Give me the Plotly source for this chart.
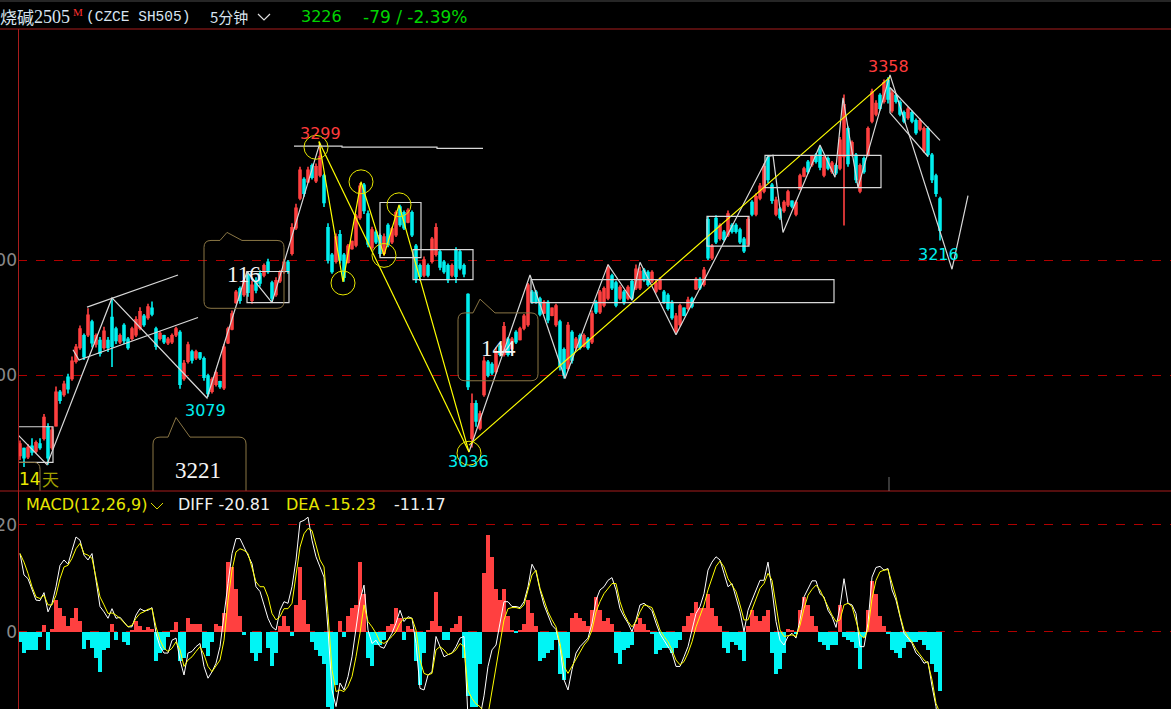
import plotly.graph_objects as go

title_cn = "烧碱"
contract = "2505"
last_price = "3226"
change_text = "-79 / -2.39%"

opens = [3030,3036,3029,3038,3034,3040,3045,3055,3037,3056,3085,3083,3098,3097,3112,3124,3134,3135,3146,3127,3130,3124,3130,3150,
3140,3129,3143,3131,3132,3135,3141,3151,3150,3158,3140,3132,3134,3128,3129,3135,3137,3097,3112,3120,3115,3119,3114,3099,3086,3092,3094,3089,
3128,3140,3163,3175,3170,3187,3165,3182,3188,3187,3198,3180,3170,3182,3190,3198,3206,3228,3254,3270,3268,3282,3269,3274,
3273,3228,3204,3199,3222,3204,3198,3210,3213,3237,3265,3240,3211,3224,3221,3206,3230,3216,3222,3246,3241,3233,3241,3212,3195,3187,3195,3199,3205,3207,3198,3195,3187,3208,3207,3195,
3170,3045,3075,3054,3083,3111,3109,3103,3125,3118,3131,3123,3137,3131,3141,3144,3172,3172,3166,3154,3163,3152,3144,3146,3122,3106,3137,3124,3134,3125,3131,3129,3163,3155,3161,3167,3186,3180,3167,3172,3167,3181,3176,
3176,3191,3189,3182,3173,3175,3172,3169,3163,3138,3144,3158,3158,3166,3175,3183,3179,3235,3202,3236,3219,3224,3222,3230,3230,3226,3218,3214,3250,3240,3254,3260,3289,3265,3240,3244,3243,3248,3251,3240,3262,3273,3285,3283,3291,3296,3274,3288,3277,3282,3280,3290,3314,3292,3291,3260,3288,3292,3321,3327,3343,3338,3356,3330,3343,3337,3328,3324,3328,3321,3314,3295,3314,3291,3273,3253]
closes = [3040,3028,3037,3033,3041,3037,3063,3028,3052,3085,3078,3092,3088,3112,3124,3140,3116,3152,3128,3134,3119,3138,3124,3125,
3130,3134,3130,3124,3140,3148,3155,3144,3159,3153,3125,3136,3129,3131,3134,3140,3092,3110,3126,3113,3120,3115,3098,3084,3096,3102,3090,3124,
3140,3153,3172,3165,3182,3172,3178,3174,3180,3195,3190,3167,3182,3189,3198,3191,3228,3245,3278,3258,3278,3272,3281,3290,
3250,3200,3190,3220,3200,3185,3212,3216,3238,3264,3243,3214,3226,3216,3206,3220,3214,3227,3241,3231,3228,3243,3222,3184,3186,3200,3187,3218,3228,3194,3190,3183,3195,3186,3193,3188,
3090,3075,3060,3066,3112,3100,3102,3120,3118,3142,3118,3131,3129,3140,3151,3178,3164,3164,3153,3163,3148,3158,3160,3108,3100,3143,3113,3131,3124,3134,3124,3153,3155,3172,3175,3193,3176,3161,3176,3163,3176,3167,3192,
3190,3183,3179,3189,3180,3183,3164,3158,3150,3151,3160,3152,3165,3160,3183,3176,3191,3202,3212,3216,3230,3218,3240,3225,3225,3216,3208,3235,3240,3255,3264,3281,3270,3252,3252,3237,3250,3259,3247,3250,3273,3279,3277,3290,3286,3281,3289,3280,3284,3276,3304,3335,3284,3302,3270,3282,3277,3314,3346,3336,3332,3354,3340,3345,3338,3327,3321,3331,3321,3311,3321,3314,3292,3270,3258,3226]
highs = [3043,3037,3040,3045,3043,3045,3066,3058,3055,3090,3087,3095,3101,3116,3127,3143,3136,3158,3148,3136,3133,3142,3133,3167,
3142,3136,3145,3133,3142,3151,3159,3153,3162,3164,3142,3138,3135,3133,3136,3142,3139,3113,3129,3122,3122,3120,3116,3101,3098,3104,3095,3127,
3142,3156,3174,3177,3185,3190,3182,3185,3191,3197,3201,3182,3185,3191,3201,3200,3232,3249,3281,3272,3281,3284,3284,3298,
3275,3232,3206,3223,3226,3206,3214,3217,3240,3267,3267,3243,3229,3226,3223,3223,3232,3229,3243,3248,3243,3245,3243,3214,3197,3203,3197,3220,3232,3209,3200,3197,3197,3211,3209,3197,
3171,3084,3078,3069,3116,3113,3111,3124,3127,3146,3133,3133,3139,3142,3153,3180,3174,3174,3168,3165,3165,3159,3162,3148,3124,3146,3139,3133,3136,3136,3133,3156,3165,3174,3177,3196,3188,3182,3178,3174,3178,3183,3196,
3194,3193,3191,3191,3183,3185,3174,3171,3165,3154,3162,3159,3168,3168,3185,3185,3194,3238,3214,3239,3232,3226,3243,3232,3232,3228,3220,3238,3252,3258,3267,3284,3291,3267,3255,3246,3252,3261,3252,3252,3275,3281,3287,3291,3293,3299,3291,3290,3286,3284,3307,3344,3316,3304,3293,3284,3290,3316,3349,3339,3345,3357,3359,3348,3345,3339,3330,3333,3330,3323,3323,3316,3316,3293,3275,3255]
lows = [3026,3020,3027,3030,3032,3035,3043,3022,3035,3055,3075,3081,3084,3095,3110,3122,3113,3133,3124,3124,3116,3122,3120,3107,
3127,3127,3127,3122,3130,3133,3139,3142,3148,3151,3122,3130,3127,3126,3127,3133,3088,3095,3110,3110,3113,3113,3095,3081,3084,3090,3088,3087,
3127,3139,3162,3162,3168,3168,3162,3171,3177,3185,3188,3164,3168,3180,3188,3188,3204,3226,3252,3255,3267,3270,3267,3272,
3246,3197,3188,3197,3197,3181,3197,3209,3211,3235,3240,3211,3209,3214,3203,3204,3211,3214,3220,3229,3226,3232,3220,3180,3182,3185,3185,3197,3203,3191,3188,3180,3185,3180,3191,3185,
3087,3037,3055,3052,3081,3098,3100,3101,3116,3116,3116,3122,3127,3130,3139,3142,3162,3162,3151,3153,3145,3151,3142,3104,3097,3104,3110,3122,3122,3124,3122,3127,3153,3153,3159,3165,3174,3159,3165,3161,3165,3165,3174,
3174,3181,3177,3180,3171,3174,3162,3156,3148,3136,3142,3151,3156,3158,3174,3174,3177,3200,3200,3214,3217,3216,3220,3223,3223,3214,3206,3212,3238,3238,3252,3258,3267,3249,3238,3235,3241,3246,3245,3238,3261,3272,3275,3281,3284,3278,3272,3278,3275,3274,3278,3230,3281,3290,3267,3258,3275,3290,3319,3325,3330,3336,3336,3328,3336,3325,3319,3322,3319,3309,3312,3293,3290,3267,3255,3217]

macd_hist = [-2,-4,-3.5,-3.5,-3.4,-1,1.2,-3.5,0.5,6,4.5,3,1,2.5,4.5,2,-3.2,-1.5,-3,-5,-7.5,-3.5,-3,1.5,-1.5,0,-2,-2.5,0.3,2,1,0.3,0.8,0.5,-5.5,-4,-3.5,-1,0.2,1.8,-5.5,-5,2.5,1.5,1.5,1.5,-3,-4.5,-2,1.5,1,3.5,13,12,8,3,-0.6,0,-4,-5.5,-4,0,-3,-6.5,-4,1,3,1,-0.8,5,12,6,1.5,-2,-3.5,-4.5,-6,-14,-15,-10,2,-1,3,4.5,5,13,7,-5,-6.5,-2.5,-2.5,-1.5,1,1.5,4.5,2.5,-1.5,1,0.5,-5.5,-10,-4,0.2,2,7.5,1,-1.5,-1.5,0.7,1.5,3,-5,
-12,-14,-14,-6,11,18,14,8,6,8,3,0.3,-0.3,0.3,1.5,6,3.5,1,-5.5,-5,-4,-3.5,-1.5,-8,-9,-5,2.5,3.5,2.5,2,1,4,6.5,4,2,2.5,1.5,-4,-6,-3.5,-3,-2.5,1.5,2.5,1.5,0.2,-0.5,-4.2,-3.5,-3,-3,-4,-3,-1.5,1,3,3.5,5.5,4.5,4.5,7,4.5,3,1,-3,-4,-2,-2.5,-3.5,-5.5,1,4,3,2,3,4,-4,-8,-7,-4,0.5,0.3,-0.5,4,6.5,5,3,1,-2,-2.5,-3.5,-2.5,-2.5,5,-1,-1.5,-2,-3,-7,-1,4,9.5,7,3,1,-0.5,-3.5,-4,-5,-3,-2,-2,-2,-1.5,-2.5,-3.5,-6,-7.5,-11.17]

macd_diff = [14.6,10.6,9.9,7.8,5.9,5.8,7.3,3.7,5.3,8.4,12.4,13.4,12.6,15.2,17.7,17.1,14.3,13.4,14.6,9.6,4.7,3.7,2.5,4.3,2.5,2.7,1.9,0.9,0.9,3.1,4.3,3.9,4.0,4.5,-0.3,-2.8,-4.0,-4.0,-1.6,-1.2,-5.3,-8.1,-4.0,-3.7,-2.8,-2.2,-6.5,-8.7,-7.5,-5.9,-2.8,3.4,9.0,14.6,17.4,17.4,15.8,14.3,12.7,8.4,7.5,5.0,2.5,0.9,0.3,4.0,5.6,5.3,8.4,13.4,20.5,20.8,21.4,17.1,14.0,12.1,10.2,0.3,-10.9,-14.0,-9.6,-10.9,-8.4,-4.7,0.3,5.9,8.7,0.3,-2.2,-1.6,-2.8,-3.1,-1.6,-0.3,1.6,4.0,1.9,2.8,2.5,-2.2,-10.6,-10.9,-8.1,-7.5,-0.9,-2.8,-4.7,-4.3,-4.0,-2.8,-1.2,-0.9,
-16,-18,-17,-16,-12,-6.5,-3.4,-2.5,1.6,5.6,5.6,4.7,4.7,4.5,5.6,8.4,12.6,11.2,7.8,5,3.1,1.2,0.4,-2.8,-9,-10.9,-7.1,-4,-2.8,-1.9,-1.2,1.6,5.9,7.8,8.4,9.6,10.1,7.8,4.3,2.8,1.6,0,2.2,5,5.3,4.7,3.9,1.6,-0.4,-1.6,-2.8,-4,-6.5,-6.5,-4.7,-2.8,0.3,3.4,4.7,7.1,11.5,13,14,13.4,10.9,8.4,9,6.5,3.7,0,4,5.9,7.8,9.6,9.6,13,7.8,1.9,-1.6,-2.5,-0.9,-0.3,-1.2,2.2,6.5,8.1,9.5,9.5,7.1,6.5,4,2.8,0.8,4.7,9.9,5.3,5,3.4,-2.8,-2.8,1.6,10.2,12,12.2,11.5,11.8,7.8,5.9,2.8,-0.3,-1.2,-2.2,-4,-4.7,-5.9,-5.6,-10.2,-14,-20.81]

macd_dea = [14.6,13,10.9,8.4,6.5,6.2,6.8,5,5,6.8,9.9,12.1,12.4,13.7,15.5,16.5,14.6,14.3,13.7,10.2,6.5,5,3.4,3.5,3.1,2.5,1.6,0.9,1.2,2.5,3.4,3.7,4.2,4.3,0.9,-1.6,-3.1,-3.7,-3.1,-1.9,-3.4,-6.5,-5.3,-4.7,-3.7,-2.8,-4.3,-6.5,-7.5,-6.5,-5.3,-1.6,5.9,11.5,14.9,15.5,15.2,14.6,12.1,9.3,8.4,8.4,6.5,3.4,2.2,2.8,4.3,4.3,5.3,10.2,15.8,18.3,19.3,18.9,16.1,13.4,12.1,3.4,-7.1,-11.2,-10.9,-11.2,-10.2,-8.4,-4.7,-0.3,5,1.9,0.9,-0.3,-1.9,-2.2,-1.6,-0.9,0,1.6,2.5,2.5,2.5,0.3,-5.3,-7.8,-8.1,-7.8,-3.4,-2.8,-3.4,-4.3,-4,-3.4,-2.2,-2.8,
-11,-12.5,-13.5,-14,-15,-15.5,-10.9,-6.5,-2.2,2.2,4.3,4.5,4.5,4.3,5,7.8,10.6,11.5,8.1,5.9,3.7,2.2,0.9,-2.2,-6.5,-7.8,-6.5,-5,-3.7,-2.5,-1.6,0.3,3.7,5.6,7.1,8.1,9,9,5.6,3.4,1.9,0.9,1.9,3.7,5,4.8,4.5,2.5,0.3,-0.9,-1.9,-3.4,-5.3,-6.2,-5.6,-4,-1.9,0.9,3.1,5,7.8,10.2,12.2,13.2,12.1,9.9,8.7,7.5,5,2.2,2.2,4.3,6.2,8.1,9,10.9,9.6,4.7,0.3,-0.9,-0.8,-0.6,-0.9,1.2,4.3,6.8,7.9,8.7,7.8,6.2,4.7,3.1,1.9,2.2,5,5.3,4.7,2.2,-0.6,-1.2,0.3,6.2,9.6,11.2,11.5,11.6,9,6.5,3.1,0.3,-0.9,-1.9,-3.3,-4.3,-5.3,-5.9,-9,-13.4,-15.23]

n = len(closes)
assert n == len(opens) == len(highs) == len(lows), (len(opens), n, len(highs), len(lows))
assert n == len(macd_hist) == len(macd_diff) == len(macd_dea), (n, len(macd_hist), len(macd_diff), len(macd_dea))
bars = list(range(n))

# drawn studies, in bar index / price units
zig_white_a_x = [-0.5,6.75,23,46.75,56.75,63,75]
zig_white_a_y = [3048,3022,3167,3080,3190,3163,3302]
zig_white_b_x = [112.25,127.5,136.25,147,153,155,164,187,188.25,190.75,200,203.75,205.75,209.5,217.5,233,237]
zig_white_b_y = [3033,3187,3097,3196,3165,3198,3135,3290,3291,3224,3300,3272,3341,3263,3361,3192,3256]
zig_yellow_x = [74.75,80.75,85.25,91,94.75,112.25]
zig_yellow_y = [3303,3181,3268,3204,3248,3033]
yellow_straights = [((74.75,112.25),(3303,3033)), ((112.25,217.5),(3039,3359))]
white_trends = [((16.75,39.5),(3159,3187)), ((13.25,14.75,44.5),(3122,3113,3150)),
                ((68.5,80.5,80.5,104.25,104.25,115.75),(3299,3299,3298.2,3298.2,3297,3297)),
                ((217.5,230),(3350,3304)), ((217.5,217.5,227),(3350,3328,3290))]
boxes = [(-0.5,8.25,3024,3055),(56.75,67.25,3163,3190),(90,100.25,3202,3250),(98.25,113.25,3183,3209),
         (127.75,203.5,3163,3183),(171.75,182.25,3212,3238),(186.25,215.25,3263,3291)]
circle_x = [74,80.75,85.25,91,94.75,112.25]
circle_y = [3298,3180,3268,3204,3248,3032]
callouts = [(46,66,3217,3158,50,51.75,55.5,3224),(109.5,129.5,3154,3095,113.25,115,118.75,3166),
            (33.25,56.5,3046,2985,37,39,42.5,3063)]

TOP, SPLIT, W, H = 29.0, 491.0, 1171.0, 709.0
fig = go.Figure()
fig.add_trace(go.Candlestick(x=bars, open=opens, high=highs, low=lows, close=closes, xaxis="x", yaxis="y",
    increasing=dict(line=dict(color="#ff4040", width=1.6), fillcolor="#ff4040"),
    decreasing=dict(line=dict(color="#00f0f0", width=1.6), fillcolor="#00f0f0"),
    whiskerwidth=0, hoverinfo="skip", showlegend=False))
for xs, ys, c in [(zig_white_a_x, zig_white_a_y, "#d8d8d8"), (zig_white_b_x, zig_white_b_y, "#d8d8d8"), (zig_yellow_x, zig_yellow_y, "#ffff00")]:
    fig.add_trace(go.Scatter(x=xs, y=ys, mode="lines", line=dict(color=c, width=1.2), xaxis="x", yaxis="y", hoverinfo="skip", showlegend=False))
for (xs, ys) in yellow_straights:
    fig.add_trace(go.Scatter(x=xs, y=ys, mode="lines", line=dict(color="#ffff00", width=1.2), xaxis="x", yaxis="y", hoverinfo="skip", showlegend=False))
for (xs, ys) in white_trends:
    fig.add_trace(go.Scatter(x=xs, y=ys, mode="lines", line=dict(color="#d8d8d8", width=1.2), xaxis="x", yaxis="y", hoverinfo="skip", showlegend=False))

fig.add_trace(go.Bar(x=bars, y=macd_hist, width=1, xaxis="x2", yaxis="y2", hoverinfo="skip", showlegend=False,
    marker=dict(color=["#ff4040" if v >= 0 else "#00f5f5" for v in macd_hist], line=dict(width=0))))
fig.add_trace(go.Scatter(x=bars, y=macd_diff, mode="lines", line=dict(color="#ffffff", width=1), xaxis="x2", yaxis="y2", hoverinfo="skip", showlegend=False))
fig.add_trace(go.Scatter(x=bars, y=macd_dea, mode="lines", line=dict(color="#ffff00", width=1), xaxis="x2", yaxis="y2", hoverinfo="skip", showlegend=False))

shapes = []
for x0, x1, y0, y1 in boxes:
    shapes.append(dict(type="rect", xref="x", yref="y", x0=x0, x1=x1, y0=y0, y1=y1, line=dict(color="#d8d8d8", width=1.2)))
for cx, cy in zip(circle_x, circle_y):
    shapes.append(dict(type="circle", xref="x", yref="y", x0=cx-3, x1=cx+3, y0=cy-10.4, y1=cy+10.4, line=dict(color="#e8e800", width=1)))
for x0, x1, top, bot, p0, p1, p2, tip in callouts:
    rx, ry = 1.75, 6
    path = (f"M {x0+rx} {top} L {p0} {top} L {p1} {tip} L {p2} {top} L {x1-rx} {top} Q {x1} {top} {x1} {top-ry} "
            f"L {x1} {bot+ry} Q {x1} {bot} {x1-rx} {bot} L {x0+rx} {bot} Q {x0} {bot} {x0} {bot+ry} L {x0} {top-ry} Q {x0} {top} {x0+rx} {top} Z")
    shapes.append(dict(type="path", xref="x", yref="y", path=path, line=dict(color="#8a7645", width=1)))
shapes.append(dict(type="path", xref="x", yref="y", path="M -0.5 3024 L 3.5 3024 Q 5 3024 5 3018 L 5 2985", line=dict(color="#8a7645", width=1)))
shapes.append(dict(type="line", xref="paper", yref="paper", x0=0, x1=1, y0=1-TOP/H, y1=1-TOP/H, line=dict(color="#a81c1c", width=1.2)))
shapes.append(dict(type="line", xref="paper", yref="paper", x0=0, x1=1, y0=1-SPLIT/H, y1=1-SPLIT/H, line=dict(color="#a81c1c", width=1.2)))
shapes.append(dict(type="line", xref="paper", yref="paper", x0=18.5/W, x1=18.5/W, y0=0, y1=1-TOP/H, line=dict(color="#a81c1c", width=1)))
shapes.append(dict(type="rect", xref="paper", yref="paper", x0=0, x1=1, y0=1-2/H, y1=1, fillcolor="#262626", line=dict(width=0)))
shapes.append(dict(type="line", xref="paper", yref="paper", x0=889/W, x1=889/W, y0=1-477/H, y1=1-SPLIT/H, line=dict(color="#707070", width=1)))
shapes.append(dict(type="path", xref="paper", yref="paper", path=f"M {258/W} {1-14/H} L {264/W} {1-20/H} L {270/W} {1-14/H}", line=dict(color="#e0e0e0", width=1.2)))
shapes.append(dict(type="path", xref="paper", yref="paper", path=f"M {151/W} {1-503/H} L {157/W} {1-509/H} L {163/W} {1-503/H}", line=dict(color="#dddd00", width=1)))

SANS = "DejaVu Sans"; SERIF = "Liberation Serif"; CJK = "Noto Sans CJK SC"; MONO = "Liberation Mono"
ann = []
def head(px, py, text, color, size, family, anchor="left"):
    ann.append(dict(xref="paper", yref="paper", x=px/W, y=1-py/H, text=text, showarrow=False, xanchor=anchor, yanchor="middle",
                    xshift=-1, font=dict(color=color, size=size, family=family)))
def lab(ix, price, text, color, size, family=SANS):
    ann.append(dict(xref="x", yref="y", x=ix, y=price, text=text, showarrow=False, xanchor="center", yanchor="middle",
                    font=dict(color=color, size=size, family=family)))
head(-1, 17, title_cn, "#d8e4f0", 17, CJK)
head(33, 17, contract, "#d8e4f0", 18, SERIF)
head(72, 12, "M", "#ff3030", 11, SERIF)
head(85, 17, "(CZCE SH505)", "#d8e4f0", 14.5, MONO)
head(209, 17, "5分钟", "#d8e4f0", 15, CJK)
head(300, 17, last_price, "#00d400", 16, SANS)
head(362, 17, change_text, "#00d400", 17, SANS)
head(25, 504, "MACD(12,26,9)", "#e6e600", 16, SANS)
head(177, 504, "DIFF -20.81", "#f0f0f0", 16, SANS)
head(285, 504, "DEA -15.23", "#e6e600", 16, SANS)
head(393, 504, "-11.17", "#f0f0f0", 16, SANS)
lab(217, 3368, "3358", "#ff3c3c", 16)
lab(75, 3310, "3299", "#ff3c3c", 16)
lab(46.25, 3069, "3079", "#00eeee", 16)
lab(112, 3025, "3036", "#00eeee", 16)
lab(229.5, 3205, "3216", "#00eeee", 16)
lab(56, 3187, "116", "#f5f5f5", 23, SERIF)
lab(119.5, 3123, "144", "#f5f5f5", 23, SERIF)
lab(44.5, 3017, "3221", "#f5f5f5", 23, SERIF)
lab(2.5, 3010, "14", "#e8e800", 17)
lab(7.5, 3010, "天", "#a0a000", 17, CJK)

x0_val = (18-20)/4.0
x1_val = (1171-20)/4.0
axis_common = dict(range=[x0_val, x1_val], showgrid=False, showticklabels=False, zeroline=False, showline=False, ticks="", fixedrange=True, domain=[18/W, 1], automargin=False)
fig.update_layout(width=1171, height=709, margin=dict(l=0, r=0, t=0, b=0, pad=0, autoexpand=False), paper_bgcolor="#000", plot_bgcolor="#000",
    bargap=0, showlegend=False, shapes=shapes, annotations=ann,
    xaxis=dict(rangeslider=dict(visible=False), anchor="y", **axis_common),
    xaxis2=dict(anchor="y2", **axis_common),
    yaxis=dict(domain=[1-SPLIT/H, 1-TOP/H], range=[3200-(SPLIT-260)/1.15, 3200+(260-TOP)/1.15], anchor="x", automargin=False,
               tickvals=[3100,3200], ticktext=["3100","3200"], ticks="", showgrid=True, gridcolor="#b00000", griddash="dash", gridwidth=1,
               zeroline=False, tickfont=dict(color="#8a8a8a", size=17, family=SANS), fixedrange=True),
    yaxis2=dict(domain=[0, 1-SPLIT/H], range=[(631.67-709)/5.35, (631.67-SPLIT)/5.35], anchor="x2", automargin=False,
               tickvals=[0,20], ticktext=["0","20"], ticks="", showgrid=True, gridcolor="#b00000", griddash="dash", gridwidth=1,
               zeroline=False, tickfont=dict(color="#8a8a8a", size=17, family=SANS), fixedrange=True))
fig.write_html("out.html", config=dict(displayModeBar=False),
               post_script="document.body.style.margin='0';document.body.style.background='#000';document.documentElement.style.overflow='hidden';")
